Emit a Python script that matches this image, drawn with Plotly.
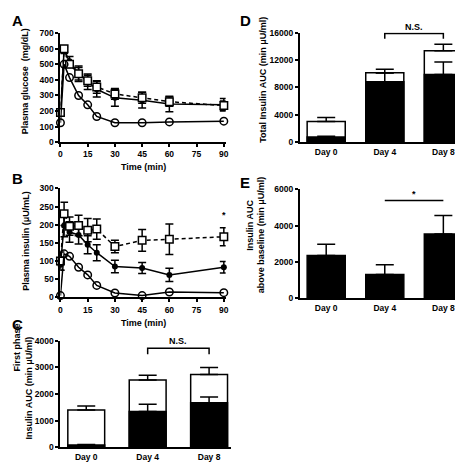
import plotly.graph_objects as go

W, H = 463, 462
FONT = "Liberation Sans"

# ---------------- data ----------------
time_min = [0, 2, 5, 10, 15, 20, 30, 45, 60, 90]
time_ticks = [0, 15, 30, 45, 60, 75, 90]

glucose_day0 = [125, 500, 415, 300, 240, 165, 125, 125, 130, 135]
glucose_day4 = [190, 590, 520, 440, 388, 340, 285, 270, 245, 240]
glucose_day4_err = [15, 20, 30, 50, 50, 50, 55, 50, 50, 40]
glucose_day8 = [190, 600, 500, 440, 395, 355, 310, 285, 260, 235]
glucose_day8_err = [15, 20, 20, 40, 35, 40, 35, 35, 30, 30]

insulin_day0 = [5, 120, 113, 83, 62, 33, 12, 5, 15, 13]
insulin_day4 = [90, 197, 180, 172, 145, 123, 85, 81, 62, 83]
insulin_day4_err = [15, 30, 28, 25, 25, 22, 17, 15, 18, 16]
insulin_day8 = [100, 230, 196, 198, 185, 188, 140, 157, 160, 167]
insulin_day8_err = [25, 32, 25, 28, 32, 28, 17, 30, 42, 25]

days = ["Day 0", "Day 4", "Day 8"]
first_phase_open = [1400, 2530, 2730]
first_phase_open_err = [150, 180, 270]
first_phase_solid = [90, 1350, 1670]
first_phase_solid_err = [20, 270, 220]

total_auc_open = [3050, 10150, 13350]
total_auc_open_err = [600, 500, 950]
total_auc_solid = [800, 8850, 9900]
total_auc_solid_err = [100, 1250, 1800]

above_baseline = [2350, 1310, 3530]
above_baseline_err = [620, 540, 1020]

# significance markers (data units)
sig_c_low, sig_c_high, sig_c_text = 3490, 3720, "N.S."
sig_d_low, sig_d_high, sig_d_text = 15100, 15850, "N.S."
sig_e_y, sig_e_text = 5370, "*"
sig_b_y, sig_b_text = 208, "*"

# ---------------- helpers ----------------
def font(size=9):
    return dict(family=FONT, size=size, color="black", weight="bold")

def px_x(px):
    return px / W

def px_y(py):
    return 1 - py / H

fig = go.Figure()

def err(arr, w=4, up_only=False):
    d = dict(type="data", array=arr, color="black", thickness=1.5, width=w, visible=True)
    if up_only:
        d["symmetric"] = False
        d["arrayminus"] = [0] * len(arr)
    return d

def time_series(xa, ya, d0, d4, d4e, d8, d8e):
    fig.add_trace(go.Scatter(x=time_min, y=d4, mode="lines+markers", xaxis=xa, yaxis=ya,
                             line=dict(color="black", width=1.5),
                             marker=dict(symbol="circle", size=6, color="black"),
                             error_y=err(d4e), cliponaxis=False, showlegend=False))
    fig.add_trace(go.Scatter(x=time_min, y=d8, mode="lines+markers", xaxis=xa, yaxis=ya,
                             line=dict(color="black", width=1.5, dash="4px,3px"),
                             marker=dict(symbol="square", size=7.5, color="white",
                                         line=dict(color="black", width=1.5)),
                             error_y=err(d8e), cliponaxis=False, showlegend=False))
    fig.add_trace(go.Scatter(x=time_min, y=d0, mode="lines+markers", xaxis=xa, yaxis=ya,
                             line=dict(color="black", width=1.5),
                             marker=dict(symbol="circle-open", size=7.5,
                                         line=dict(color="black", width=1.5)),
                             cliponaxis=False, showlegend=False))

time_series("x", "y", glucose_day0, glucose_day4, glucose_day4_err, glucose_day8, glucose_day8_err)
time_series("x2", "y2", insulin_day0, insulin_day4, insulin_day4_err, insulin_day8, insulin_day8_err)

def bars(xa, ya, vals, errs, color, width):
    fig.add_trace(go.Bar(x=days, y=vals, xaxis=xa, yaxis=ya, width=width,
                         marker=dict(color=color, line=dict(color="black", width=1.5)),
                         error_y=err(errs, w=9, up_only=True), showlegend=False))

bars("x3", "y3", first_phase_open, first_phase_open_err, "white", 0.6)
bars("x3", "y3", first_phase_solid, first_phase_solid_err, "black", 0.6)
bars("x4", "y4", total_auc_open, total_auc_open_err, "white", 0.65)
bars("x4", "y4", total_auc_solid, total_auc_solid_err, "black", 0.65)
bars("x5", "y5", above_baseline, above_baseline_err, "black", 0.65)

# significance brackets
fig.add_trace(go.Scatter(x=["Day 4", "Day 4", "Day 8", "Day 8"],
                         y=[sig_c_low, sig_c_high, sig_c_high, sig_c_low],
                         mode="lines", line=dict(color="black", width=1.5),
                         xaxis="x3", yaxis="y3", showlegend=False))
fig.add_trace(go.Scatter(x=["Day 4", "Day 4", "Day 8", "Day 8"],
                         y=[sig_d_low, sig_d_high, sig_d_high, sig_d_low],
                         mode="lines", line=dict(color="black", width=1.5),
                         xaxis="x4", yaxis="y4", showlegend=False))
fig.add_trace(go.Scatter(x=["Day 4", "Day 8"], y=[sig_e_y, sig_e_y],
                         mode="lines", line=dict(color="black", width=1.5),
                         xaxis="x5", yaxis="y5", showlegend=False))

# ---------------- axes ----------------
def lin_axis(**kw):
    base = dict(showline=True, linecolor="black", linewidth=2, showgrid=False, zeroline=False,
                ticks="outside", ticklen=3, tickwidth=1.5, tickcolor="black",
                tickfont=font(8.5), tickformat="d", fixedrange=True)
    base.update(kw)
    return base

def cat_axis(**kw):
    base = dict(showline=True, linecolor="black", linewidth=2, showgrid=False, zeroline=False,
                ticks="", tickfont=font(8.5), type="category", fixedrange=True)
    base.update(kw)
    return base

left_dom = [px_x(51), px_x(218)]
c_dom = [px_x(51), px_x(223)]
right_dom = [px_x(293), px_x(460)]

fig.update_layout(
    width=W, height=H, margin=dict(l=0, r=0, t=0, b=0),
    paper_bgcolor="white", plot_bgcolor="white",
    barmode="overlay", font=font(9),
    xaxis=lin_axis(domain=left_dom, range=[0, 91], tickvals=time_ticks, anchor="y"),
    yaxis=lin_axis(domain=[px_y(132), px_y(20.7)], range=[0, 700], dtick=100, anchor="x"),
    xaxis2=lin_axis(domain=left_dom, range=[0, 91], tickvals=time_ticks, anchor="y2"),
    yaxis2=lin_axis(domain=[px_y(290.7), px_y(179.3)], range=[0, 300], dtick=50, anchor="x2"),
    xaxis3=cat_axis(domain=c_dom, range=[-0.42, 2.35], anchor="y3"),
    yaxis3=lin_axis(domain=[px_y(444), px_y(335)], range=[0, 4000], dtick=1000, anchor="x3"),
    xaxis4=cat_axis(domain=right_dom, range=[-0.45, 2.37], anchor="y4"),
    yaxis4=lin_axis(domain=[px_y(132.3), px_y(20)], range=[0, 16000], dtick=4000, anchor="x4"),
    xaxis5=cat_axis(domain=right_dom, range=[-0.45, 2.37], anchor="y5"),
    yaxis5=lin_axis(domain=[px_y(291.7), px_y(180)], range=[0, 6000], dtick=2000, anchor="x5"),
)

# ---------------- text ----------------
ann = []
def paper_text(text, x, y, size=9.5, angle=0):
    ann.append(dict(text=text, x=px_x(x), y=px_y(y), xref="paper", yref="paper",
                    showarrow=False, xanchor="center", yanchor="middle",
                    textangle=angle, font=font(size)))

paper_text("A", 8, 8, 15)
paper_text("B", 8, 169, 15)
paper_text("C", 8, 318, 15)
paper_text("D", 238, 8, 15)
paper_text("E", 238, 173, 15)

paper_text("Plasma glucose  (mg/dL)", 16, 70, 9, -90)
paper_text("Plasma insulin (μU/mL)", 16, 233, 9, -90)
paper_text("First phase", 7, 342, 9, -90)
paper_text("Insulin AUC (min μU/ml)", 19, 383, 9, -90)
paper_text("Total Insulin AUC (min μU/ml)", 255, 68, 9, -90)
paper_text("Insulin AUC", 243, 217, 9, -90)
paper_text("above baseline (min μU/ml)", 254, 227, 9, -90)
paper_text("Time (min)", 135, 157, 9)
paper_text("Time (min)", 135, 317, 9)

def data_text(text, x, y, xa, ya):
    ann.append(dict(text=text, x=x, y=y, xref=xa, yref=ya, showarrow=False,
                    xanchor="center", yanchor="bottom", font=font(9)))

data_text(sig_b_text, 90, sig_b_y, "x2", "y2")
data_text(sig_c_text, 1.5, sig_c_high, "x3", "y3")
data_text(sig_d_text, 1.5, sig_d_high, "x4", "y4")
data_text(sig_e_text, 1.5, sig_e_y, "x5", "y5")

fig.update_layout(annotations=ann)
fig.write_html("out.html")
